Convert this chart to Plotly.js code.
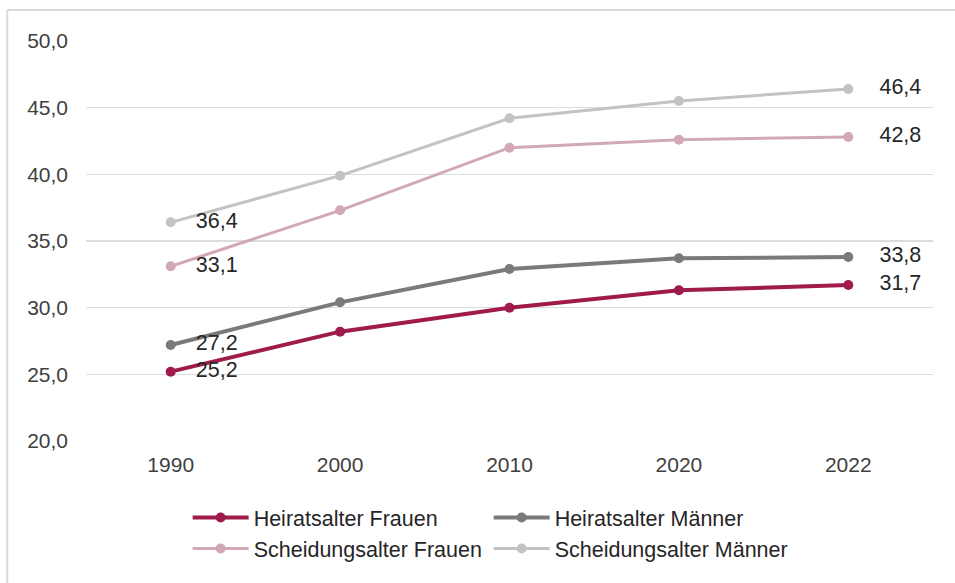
<!DOCTYPE html>
<html>
<head>
<meta charset="utf-8">
<script src="https://cdn.plot.ly/plotly-3.0.1.min.js"></script>
<style>
html,body{margin:0;padding:0;background:#fff;}
#chart{width:955px;height:583px;}
</style>
</head>
<body>
<div id="chart"></div>
<script>
const years = ['1990','2000','2010','2020','2022'];
const heiratFrauen = [25.2, 28.2, 30.0, 31.3, 31.7];
const heiratMaenner = [27.2, 30.4, 32.9, 33.7, 33.8];
const scheidungFrauen = [33.1, 37.3, 42.0, 42.6, 42.8];
const scheidungMaenner = [36.4, 39.9, 44.2, 45.5, 46.4];
const seriesNames = ['Heiratsalter Frauen','Heiratsalter Männer','Scheidungsalter Frauen','Scheidungsalter Männer'];
const yTicks = [20,25,30,35,40,45,50];

const series = [heiratFrauen, heiratMaenner, scheidungFrauen, scheidungMaenner];
const colors = ['#9e1b4b','#7a7a7a','#d3a8b5','#c3c3c3'];
const widths = [4,4,3,3];
const font = 'Liberation Sans, Arial, sans-serif';
const NB = '\u00a0';

const fmt = v => v.toFixed(1).replace('.',',');

const traces = series.map((vals,i)=>({
  type:'scatter', mode:'lines+markers+text', x:years, y:vals, name:seriesNames[i],
  line:{color:colors[i], width:widths[i]},
  marker:{color:colors[i], size:10, symbol:'circle'},
  text: vals.map((v,k)=> k===0 ? NB+NB+NB+fmt(v) : (k===vals.length-1 ? NB+NB+NB+NB+fmt(v) : '')),
  textposition:'middle right',
  textfont:{family:font, size:21.5, color:'#262626'},
  cliponaxis:false,
  hoverinfo:'skip'
}));

const layout = {
  width:955, height:583,
  margin:{l:86, r:22, t:41, b:142},
  paper_bgcolor:'#fff', plot_bgcolor:'#fff',
  separators:',.',
  font:{family:font, size:21, color:'#404040'},
  showlegend:true,
  xaxis:{type:'category', showgrid:false, zeroline:false, showline:false, ticks:'',
    ticklabelstandoff:9, tickfont:{family:font, size:21, color:'#404040'}, range:[-0.5,4.5], fixedrange:true},
  yaxis:{range:[20,50], tickvals:yTicks, tickformat:'.1f', showgrid:true, gridcolor:'#dcdcdc', gridwidth:1.5,
    zeroline:false, showline:false, ticks:'', ticklabelstandoff:17,
    tickfont:{family:font, size:21, color:'#404040'}, fixedrange:true},
  legend:{orientation:'h', x:0.12, xanchor:'left', y:-0.14, yanchor:'top',
    entrywidth:230, entrywidthmode:'pixels', itemwidth:56,
    font:{family:font, size:21.5, color:'#262626'}, bgcolor:'rgba(0,0,0,0)'},
  shapes:[
    {type:'line', xref:'paper', yref:'paper', x0:-0.093, x1:1.1, y0:1.0775, y1:1.0775, line:{color:'#d9d9d9', width:2}, layer:'below'},
    {type:'line', xref:'paper', yref:'paper', x0:-0.093, x1:-0.093, y0:1.0775, y1:-0.36, line:{color:'#d9d9d9', width:2}, layer:'below'}
  ]
};

Plotly.newPlot('chart', traces, layout, {displayModeBar:false, staticPlot:true});
</script>
</body>
</html>
